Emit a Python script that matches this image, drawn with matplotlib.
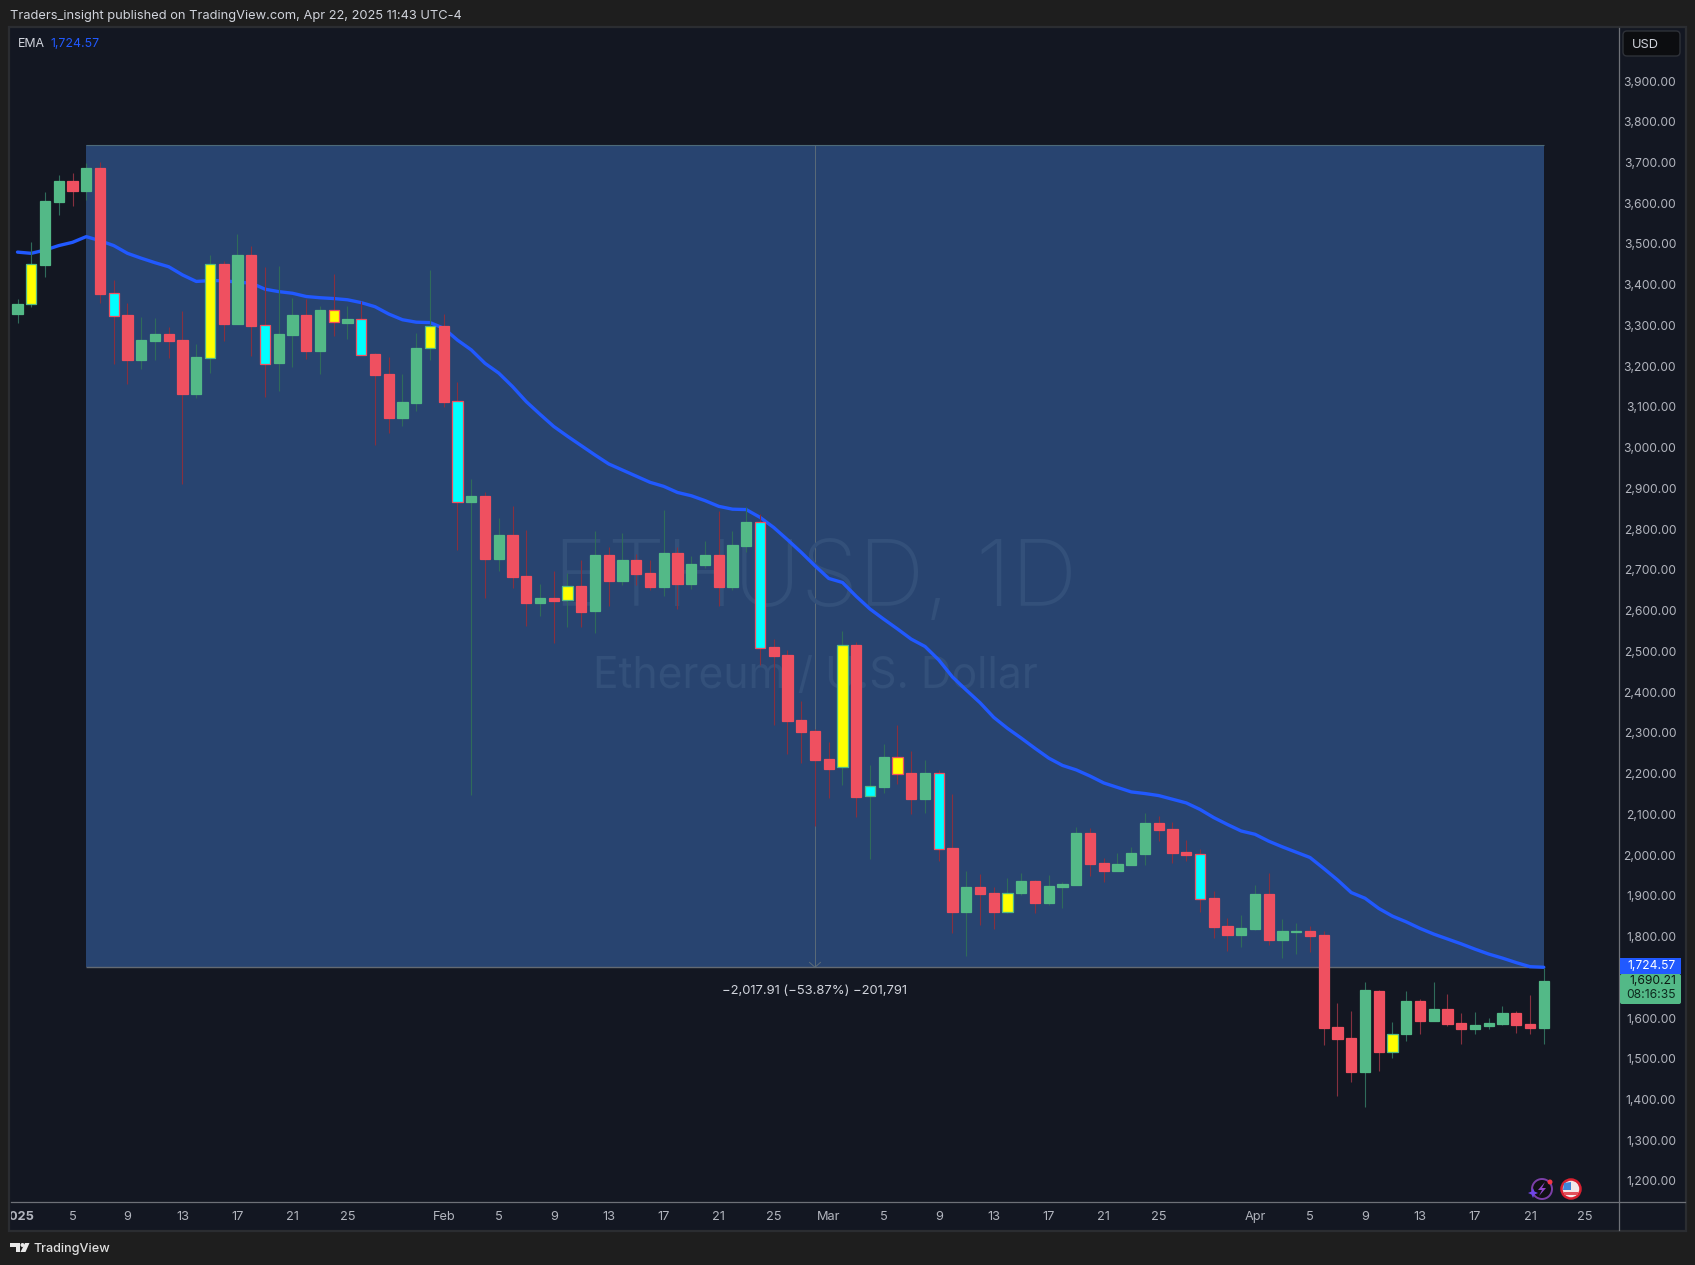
import matplotlib
matplotlib.use("Agg")
import matplotlib.pyplot as plt
from matplotlib.patches import Rectangle, FancyBboxPatch, Circle, Polygon

plt.rcParams["font.family"] = ["Inter", "DejaVu Sans"]

# Step 1: daily candles, Jan 1 to Apr 22 2025
opens = [3327, 3352, 3449, 3604, 3655, 3630, 3687, 3379, 3326, 3215, 3262, 3279, 3264, 3132, 3221, 3451,
         3304, 3473, 3300, 3208, 3277, 3326, 3237, 3337, 3306, 3315, 3230, 3181, 3073, 3110, 3244, 3299,
         3114, 2867, 2881, 2727, 2786, 2685, 2619, 2631, 2625, 2661, 2599, 2737, 2673, 2725, 2693, 2658,
         2742, 2666, 2712, 2737, 2658, 2759, 2817, 2511, 2491, 2332, 2305, 2236, 2215, 2516, 2144, 2167,
         2240, 2202, 2138, 2201, 2017, 1860, 1921, 1907, 1860, 1907, 1936, 1882, 1921, 1926, 2054, 1980,
         1961, 1975, 2002, 2078, 2064, 2007, 2002, 1894, 1826, 1804, 1818, 1904, 1791, 1811, 1813, 1804,
         1578, 1551, 1467, 1666, 1516, 1561, 1642, 1593, 1622, 1588, 1573, 1581, 1586, 1613, 1586, 1576]
closes = [3353, 3450, 3606, 3655, 3630, 3687, 3377, 3324, 3215, 3264, 3279, 3262, 3132, 3223, 3450, 3304,
          3473, 3299, 3206, 3279, 3326, 3237, 3338, 3308, 3316, 3228, 3178, 3073, 3112, 3245, 3298, 3112,
          2866, 2881, 2727, 2786, 2683, 2619, 2631, 2624, 2660, 2597, 2737, 2673, 2725, 2690, 2658, 2742,
          2666, 2715, 2737, 2658, 2761, 2818, 2509, 2489, 2329, 2302, 2234, 2212, 2515, 2143, 2169, 2241,
          2200, 2138, 2202, 2016, 1860, 1921, 1904, 1860, 1908, 1936, 1882, 1924, 1929, 2054, 1978, 1961,
          1978, 2005, 2078, 2061, 2005, 2000, 1893, 1823, 1804, 1821, 1904, 1791, 1813, 1813, 1801, 1575,
          1548, 1467, 1669, 1516, 1562, 1642, 1593, 1622, 1586, 1573, 1583, 1588, 1613, 1583, 1576, 1690.21]
highs = [3365, 3504, 3628, 3669, 3675, 3698, 3701, 3412, 3354, 3321, 3318, 3296, 3336, 3255, 3472, 3458,
         3525, 3494, 3444, 3446, 3368, 3365, 3348, 3426, 3348, 3360, 3232, 3223, 3181, 3282, 3435, 3328,
         3161, 2923, 2891, 2827, 2857, 2798, 2665, 2697, 2692, 2725, 2796, 2756, 2791, 2739, 2725, 2847,
         2756, 2734, 2771, 2845, 2796, 2855, 2837, 2531, 2504, 2379, 2310, 2278, 2550, 2523, 2221, 2273,
         2320, 2256, 2234, 2209, 2151, 1961, 1953, 1921, 1943, 1956, 1939, 1951, 1934, 2069, 2066, 1993,
         2005, 2020, 2103, 2096, 2080, 2037, 2015, 1912, 1845, 1853, 1926, 1956, 1843, 1833, 1826, 1813,
         1637, 1617, 1688, 1669, 1590, 1666, 1647, 1689, 1659, 1613, 1615, 1600, 1630, 1618, 1657, 1722]
lows = [3307, 3346, 3420, 3570, 3592, 3608, 3356, 3206, 3157, 3194, 3215, 3220, 2912, 3122, 3184, 3263,
        3304, 3224, 3125, 3138, 3199, 3218, 3181, 3275, 3267, 3228, 3007, 3037, 3053, 3090, 3214, 3101,
        2749, 2147, 2631, 2697, 2656, 2562, 2587, 2521, 2560, 2560, 2545, 2612, 2663, 2663, 2651, 2636,
        2603, 2653, 2705, 2612, 2651, 2744, 2467, 2320, 2248, 2226, 2072, 2140, 2172, 2094, 1991, 2153,
        2175, 2101, 2104, 1986, 1808, 1752, 1828, 1818, 1858, 1902, 1858, 1877, 1870, 1926, 1948, 1934,
        1961, 1975, 1975, 2034, 1980, 1985, 1860, 1796, 1764, 1774, 1816, 1779, 1747, 1757, 1762, 1534,
        1408, 1443, 1381, 1470, 1502, 1543, 1561, 1593, 1581, 1537, 1561, 1573, 1583, 1564, 1561, 1537]
yellow_days = [1, 14, 23, 30, 40, 60, 64, 72, 100]
cyan_days = [7, 18, 25, 32, 54, 62, 67, 86]

# EMA, one value per day
ema = [3480, 3477, 3485, 3496, 3504, 3518, 3508, 3496, 3477, 3465, 3454, 3444, 3424, 3408, 3410, 3410,
       3406, 3404, 3389, 3383, 3379, 3371, 3368, 3366, 3363, 3356, 3346, 3328, 3314, 3308, 3307, 3293,
       3264, 3240, 3207, 3183, 3150, 3113, 3082, 3052, 3028, 3005, 2982, 2960, 2945, 2930, 2915, 2905,
       2890, 2882, 2870, 2856, 2849, 2848, 2829, 2804, 2774, 2743, 2710, 2679, 2669, 2635, 2604, 2579,
       2555, 2530, 2512, 2479, 2437, 2405, 2374, 2338, 2311, 2287, 2262, 2238, 2220, 2209, 2194, 2177,
       2166, 2155, 2151, 2146, 2137, 2128, 2112, 2092, 2075, 2059, 2051, 2034, 2020, 2007, 1994, 1967,
       1939, 1908, 1894, 1869, 1850, 1836, 1820, 1806, 1794, 1782, 1769, 1757, 1747, 1736, 1726, 1724.57]

# Measure box: from Jan 6 to Apr 22
box_start, box_end = 5, 111
box_top, box_bottom = 3742.48, 1724.57
box_mid = 58

price_ticks = [1200, 1300, 1400, 1500, 1600, 1800, 1900, 2000, 2100, 2200, 2300, 2400, 2500,
               2600, 2700, 2800, 2900, 3000, 3100, 3200, 3300, 3400, 3500, 3600, 3700, 3800, 3900]
date_ticks = [0, 4, 8, 12, 16, 20, 24, 31, 35, 39, 43, 47, 51, 55, 59, 63, 67, 71, 75, 79, 83,
              90, 94, 98, 102, 106, 110, 114]
date_labels = ["2025", "5", "9", "13", "17", "21", "25", "Feb", "5", "9", "13", "17", "21", "25",
               "Mar", "5", "9", "13", "17", "21", "25", "Apr", "5", "9", "13", "17", "21", "25"]

# Colours
page_bg = "#1e1e1e"
pane_bg = "#131722"
box_color = "#284470"
up_color = "#53b987"
down_color = "#ef5060"
up_wick = "#2f6b5a"
down_wick = "#86303f"
ema_color = "#2159ff"
tick_color = "#b2b5be"
rule_color = "#6e7178"

W, H = 1695, 1265
fig = plt.figure(figsize=(W / 100, H / 100), dpi=100, facecolor=page_bg)

# Overlay in pixel coordinates for the page furniture
chrome = fig.add_axes([0, 0, 1, 1], zorder=0)
chrome.set_xlim(0, W)
chrome.set_ylim(H, 0)
chrome.axis("off")
chrome.add_patch(Rectangle((9, 27), 1677, 1204, facecolor=pane_bg, edgecolor="#2b2d31", linewidth=1.6))

# Main chart axes: 13.75 px per day, 0.4074 px per dollar
left, right, top, bottom = 10.5, 1618.5, 28, 1202
ax = fig.add_axes([left / W, 1 - bottom / H, (right - left) / W, (bottom - top) / H], zorder=1)
ax.set_facecolor("none")
ax.set_xlim((left - 17.5) / 13.75, (right - 17.5) / 13.75)
ax.set_ylim(3900 - (bottom - 81) / 0.4074, 3900 - (top - 81) / 0.4074)
for s in ax.spines.values():
    s.set_visible(False)

# Step 2: measure box and watermark
ax.add_patch(Rectangle((box_start, box_bottom), box_end - box_start, box_top - box_bottom,
                       facecolor=box_color, edgecolor="none", zorder=1))
ax.hlines(box_top, box_start, box_end, color="#4d6a78", linewidth=0.8, zorder=2)
ax.hlines(box_bottom, box_start, box_end, color="#646a72", linewidth=1.0, zorder=2)
ax.vlines(box_mid, box_bottom, box_top, color="#5b6b78", linewidth=0.7, zorder=2)
ax.plot([box_mid - 0.4, box_mid, box_mid + 0.4], [box_bottom + 12, box_bottom, box_bottom + 12],
        color="#5b6b78", linewidth=0.7, zorder=2)

chrome_text = dict(transform=chrome.transData, zorder=3)
ax.text(815, 606, "ETHUSD, 1D", fontsize=66.5, color="#33507a", ha="center", va="baseline",
        fontweight="light", **chrome_text)
ax.text(815, 688, "Ethereum / U.S. Dollar", fontsize=30.7, color="#33507a", ha="center", va="baseline",
        **chrome_text)

# Step 3: EMA then candles
days = list(range(len(opens)))
ax.plot(days, ema, color=ema_color, linewidth=2.4, zorder=4, solid_capstyle="round")

for d in days:
    is_up = closes[d] >= opens[d]
    wick = up_wick if is_up else down_wick
    body = up_color if is_up else down_color
    fill = "#ffff00" if d in yellow_days else "#00ffff" if d in cyan_days else body
    ax.vlines(d, lows[d], highs[d], color=wick, linewidth=0.8, zorder=5)
    ax.bar(d, abs(closes[d] - opens[d]), bottom=min(opens[d], closes[d]), width=0.73,
           color=fill, edgecolor=body, linewidth=0.9, zorder=6)

# Step 4: axes and labels
ax.yaxis.tick_right()
ax.set_yticks(price_ticks)
ax.set_yticklabels([f"{p:,.2f}" for p in price_ticks], fontsize=8.7, color=tick_color, ha="right")
ax.tick_params(axis="y", length=0, pad=41.5)
ax.set_xticks(date_ticks)
ax.set_xticklabels(date_labels, fontsize=9.2, color=tick_color)
ax.tick_params(axis="x", length=0, pad=6.5)
for t, lab in zip(ax.get_xticklabels(), date_labels):
    t.set_clip_box(fig.bbox)
    if lab == "2025":
        t.set_fontweight("bold")
        t.set_clip_box(matplotlib.transforms.Bbox([[left, 0], [60, H]]))
        t.set_clip_on(True)

chrome.plot([right, right], [top, 1230], color=rule_color, linewidth=0.9)
chrome.plot([left, 1685], [bottom, bottom], color=rule_color, linewidth=0.9)

chrome.text(10, 16, "Traders_insight published on TradingView.com, Apr 22, 2025 11:43 UTC-4",
            fontsize=9.25, color="#d1d4dc", va="center")
chrome.text(18, 44, "EMA", fontsize=8.9, color="#d1d4dc", va="center")
chrome.text(50, 44, f"{ema[-1]:,.2f}", fontsize=8.9, color=ema_color, va="center")
ax.text(box_mid, box_bottom - 59, "\u22122,017.91 (\u221253.87%) \u2212201,791", fontsize=9.4,
        color="#d1d4dc", ha="center", va="center", zorder=7)

# USD button
chrome.add_patch(FancyBboxPatch((1623, 31), 57, 25, boxstyle="round,pad=0,rounding_size=4",
                                facecolor="#0c0d10", edgecolor="#2e3138", linewidth=1))
chrome.text(1632, 45, "USD", fontsize=9.2, color="#d1d4dc", va="center")

# Price tags on the scale
chrome.add_patch(FancyBboxPatch((1620, 974), 61, 30, boxstyle="round,pad=0,rounding_size=2",
                                facecolor=up_color, edgecolor="none", zorder=4))
chrome.add_patch(Rectangle((1620, 958), 61, 16, facecolor=ema_color, edgecolor="none", zorder=4))
chrome.text(1676, 966, f"{ema[-1]:,.2f}", fontsize=8.7, color="white", ha="right", va="center", zorder=5)
chrome.text(1676, 981.5, f"{closes[-1]:,.2f}", fontsize=8.7, color="#0d1a14", ha="right", va="center", zorder=5)
chrome.text(1676, 995, "08:16:35", fontsize=8.7, color="#0d2a1e", ha="right", va="center", zorder=5)

# Time axis icons
chrome.add_patch(Circle((1542, 1189), 10, facecolor="#101014", edgecolor="#7b3fa8", linewidth=1.4, zorder=3))
chrome.add_patch(Polygon([[1545, 1182], [1538, 1190], [1542, 1190], [1539, 1196], [1546, 1188], [1542, 1188]],
                         facecolor="#8f45c8", zorder=4))
chrome.add_patch(Polygon([[1533, 1188], [1534.5, 1191.5], [1538, 1193], [1534.5, 1194.5], [1533, 1198],
                          [1531.5, 1194.5], [1528, 1193], [1531.5, 1191.5]], facecolor="#6f45e8", zorder=5))
chrome.add_patch(Circle((1550, 1182), 2.5, facecolor="#f23645", zorder=5))
chrome.add_patch(Circle((1571, 1189), 9.5, facecolor="#f3eaea", edgecolor="#d9202f", linewidth=1.8, zorder=3))
chrome.add_patch(Rectangle((1564, 1192), 14, 3, facecolor="#e2505a", zorder=4))
chrome.add_patch(Polygon([[1564, 1183], [1571, 1182], [1571, 1190], [1563, 1190]], facecolor="#3f86d8", zorder=4))

# TradingView logo
chrome.add_patch(Polygon([[10, 1243], [20, 1243], [20, 1252], [15.5, 1252], [15.5, 1246.5], [10, 1246.5]],
                         facecolor="#e8e8e8", edgecolor="none"))
chrome.add_patch(Circle((22.5, 1245), 2, facecolor="#e8e8e8", edgecolor="none"))
chrome.add_patch(Polygon([[25, 1243], [29.5, 1243], [25.5, 1252], [20.5, 1252]], facecolor="#e8e8e8", edgecolor="none"))
chrome.text(33, 1249, "TradingView", fontsize=9.1, color="#e0e0e0", va="center", fontweight="medium")

fig.savefig("out.png", dpi=100, facecolor=page_bg)
